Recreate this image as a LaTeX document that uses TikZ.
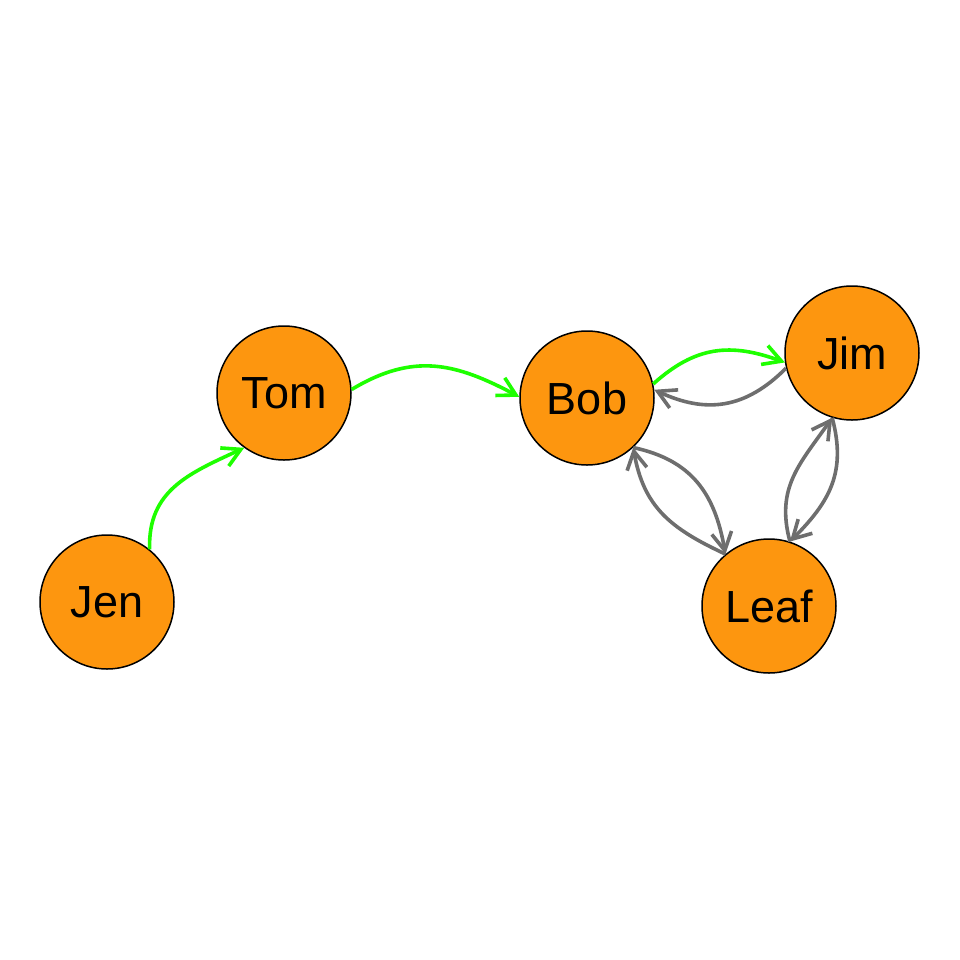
\documentclass[tikz,border=0pt]{standalone}
\usepackage{fontspec}
\setmainfont{Liberation Sans}
\usetikzlibrary{arrows.meta}
\definecolor{vorange}{RGB}{253,150,15}
\definecolor{vgreen}{RGB}{30,255,0}
\definecolor{vgray}{RGB}{110,110,110}
\tikzstyle{person} = [circle, draw=black, line width=0.75pt, fill=vorange, minimum size=67pt, inner sep=0pt, font=\fontsize{22.5}{27}\selectfont]
\tikzstyle{link} = [-{Straight Barb[length=9pt,width=10pt]}, line width=1.8pt, looseness=1.1]
\tikzstyle{green} = [link, draw=vgreen]
\tikzstyle{gray} = [link, draw=vgray]

\begin{document}
\begin{tikzpicture}[x=0.5pt, y=-0.5pt]
  \useasboundingbox (0,0) rectangle (960,960);
  \node (jen) [person] at (107,602) {Jen};
  \node (tom) [person] at (284,393) {Tom};
  \node (bob) [person] at (587,398) {Bob};
  \node (jim) [person] at (852,353) {Jim};
  \node (leaf) [person] at (769,606) {Leaf};

  \draw [green] (jen.51) to[out=92, in=205] (tom.234);
  \draw [green] (tom.3) to[out=31, in=152] (bob.179);
  \draw [green] (bob.12) to[out=42, in=160] (jim.188);
  \draw [gray] (jim.193) to[out=225, in=335] (bob.7);
  \draw [gray] (bob.-47) to[out=-12, in=100] (leaf.130);
  \draw [gray] (leaf.130) to[out=155, in=280] (bob.-47);
  \draw [gray] (jim.253) to[out=-75, in=45] (leaf.72);
  \draw [gray] (leaf.72) to[out=105, in=235] (jim.253);
\end{tikzpicture}
\end{document}
